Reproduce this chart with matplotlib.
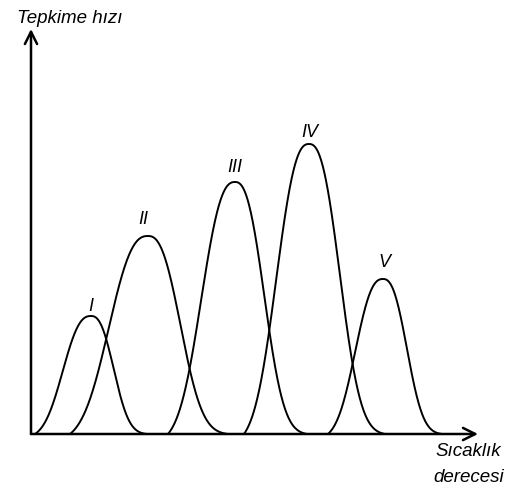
import numpy as np
import matplotlib.pyplot as plt

# Curves (x in temperature units, y in rate units)
labels = ["I", "II", "III", "IV", "V"]
starts = [4, 39, 137, 213, 297]
peaks = [60, 117, 204, 278, 352]
ends = [116, 197, 276, 354, 411]
heights = [118, 198, 252, 290, 155]
label_pos = [(60, 128), (112, 215), (204, 267), (279, 302), (353, 172)]


def hump(x0, xp, x1, h, n=200):
    # skewed, round-topped bell: clipped foot on the left, flat tail on the right
    u = np.linspace(0, 1, n)
    gl = np.exp(-((1 - u) / 0.62) ** 2.5)
    g0 = np.exp(-(1 / 0.62) ** 2.5)
    yl = h * (gl - g0) / (1 - g0)
    xl = x0 + u * (xp - x0)
    v = np.linspace(0, 1, n)
    gr = np.exp(-(v / 0.5) ** 2.5)
    g1 = np.exp(-(1 / 0.5) ** 2.5)
    yr = h * (gr - g1) / (1 - g1)
    xr = xp + v * (x1 - xp)
    return np.concatenate([xl, xr[1:]]), np.concatenate([yl, yr[1:]])


fig = plt.figure(figsize=(5.05, 4.89), dpi=100)
ax = fig.add_axes([0, 0, 1, 1])
ax.set_xlim(-31, 474)
ax.set_ylim(-54, 435)
ax.axis("off")

for lab, x0, xp, x1, h, (lx, ly) in zip(labels, starts, peaks, ends, heights, label_pos):
    x, y = hump(x0, xp, x1, h)
    ax.plot(x, y, color="black", lw=1.4, solid_capstyle="round")
    ax.text(lx, ly, lab, fontsize=13, style="italic", family="Liberation Sans",
            ha="center", va="center")

# axes with open arrowheads
ax.annotate("", xy=(447, 0), xytext=(0, 0),
            arrowprops=dict(arrowstyle="->", lw=1.8, mutation_scale=22, color="black",
                            shrinkA=0, shrinkB=0))
ax.annotate("", xy=(0, 405), xytext=(0, 0),
            arrowprops=dict(arrowstyle="->", lw=1.8, mutation_scale=22, color="black",
                            shrinkA=0, shrinkB=0))

ax.text(-14, 416, "Tepkime hızı", fontsize=13.5, style="italic",
        family="Liberation Sans", ha="left", va="center")
ax.text(470, -17, "Sıcaklık", fontsize=13.5, style="italic",
        family="Liberation Sans", ha="right", va="center")
ax.text(473, -43, "derecesi", fontsize=13.5, style="italic",
        family="Liberation Sans", ha="right", va="center")

fig.savefig("out.png", dpi=100)
